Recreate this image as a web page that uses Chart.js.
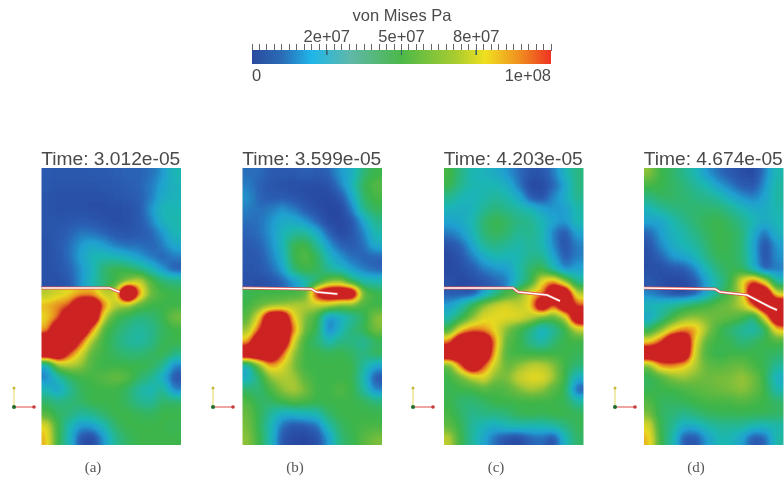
<!DOCTYPE html>
<html><head><meta charset="utf-8">
<style>html,body{margin:0;padding:0;background:#fff;overflow:hidden}canvas{display:block;filter:blur(.45px)}</style>
<script src="https://cdn.jsdelivr.net/npm/chart.js@4/dist/chart.umd.min.js"></script>
</head><body><canvas id="c" width="784" height="480"></canvas>
<script>
// Stress in MPa: 12 columns, upper half above the crack line, lower half below it.
// The colour scale saturates at 100 MPa, so the values above it are estimates from the size of the red areas.
const panelAUpper=[
8,7,7,7,8,8,9,10,10,12,18,30,
7,6,6,6,6,7,8,9,10,14,22,28,
6,5,5,5,5,5,6,7,9,14,25,28,
6,5,5,5,4,4,4,5,8,18,30,30,
6,6,7,8,7,5,4,5,8,15,28,32,
6,7,10,14,13,10,7,6,8,10,18,30,
5,8,12,20,24,20,14,12,12,10,14,24,
5,7,12,22,30,32,30,26,20,14,10,14,
5,6,10,18,28,45,50,48,40,30,18,8,
5,5,8,18,30,44,50,62,75,55,44,40];
const panelALower=[
70,75,80,85,85,70,75,170,90,60,52,50,
85,90,95,130,130,90,70,65,55,50,50,50,
80,92,130,130,130,70,50,45,40,42,48,62,
85,130,130,130,88,52,45,38,34,38,46,50,
130,130,130,95,65,50,42,35,33,38,48,50,
130,130,95,75,55,50,45,42,42,45,50,40,
20,65,70,65,52,50,50,50,50,48,38,15,
15,30,45,50,52,56,60,55,45,38,25,6,
30,20,35,47,50,50,50,45,33,28,38,15,
45,40,42,45,50,50,50,45,38,35,45,45,
55,45,42,35,38,45,50,50,48,46,50,50,
80,50,30,18,20,30,45,50,50,50,50,48,
85,50,28,5,3,20,38,46,50,50,50,50];
const panelBUpper=[
12,12,8,8,8,10,8,10,20,25,42,50,
15,10,7,5,4,4,4,5,15,28,48,55,
18,10,8,8,6,4,3,3,6,22,45,52,
15,12,14,18,14,8,4,2,2,14,38,48,
12,12,18,25,25,18,10,3,2,6,22,38,
10,12,18,28,35,36,25,10,3,6,15,32,
8,10,16,28,50,52,36,20,10,8,12,25,
7,8,14,25,50,55,48,28,18,12,10,10,
6,7,11,20,44,52,48,35,28,20,14,10,
5,4,6,10,18,30,40,60,65,42,32,30];
const panelBLower=[
48,50,50,50,50,55,110,130,130,130,60,50,
50,58,62,65,70,70,72,70,60,60,52,50,
55,80,130,130,80,62,50,15,25,35,45,65,
65,95,130,130,92,58,48,12,28,42,48,62,
85,130,130,130,75,50,42,30,40,40,35,45,
130,130,130,95,65,50,50,48,50,45,40,48,
25,60,88,78,62,50,50,50,50,50,35,22,
25,42,65,70,68,55,50,50,50,50,30,6,
45,42,52,65,70,62,50,50,55,50,35,15,
55,45,45,50,55,52,50,50,50,50,48,42,
60,48,35,25,25,28,30,45,50,50,50,50,
62,48,30,12,6,8,12,32,45,50,52,52,
65,50,30,6,3,2,5,20,42,48,56,62];
const panelCUpper=[
52,40,30,28,25,18,12,6,6,14,28,40,
50,38,30,30,30,26,14,3,3,10,22,40,
38,30,28,32,35,32,25,8,5,16,25,38,
28,26,28,36,42,38,34,30,22,18,20,32,
22,24,30,44,50,46,40,38,30,22,18,32,
14,18,28,42,48,44,36,38,32,14,6,22,
5,10,22,36,40,36,32,36,32,16,5,15,
3,6,14,24,30,28,30,38,38,22,8,15,
3,4,8,14,18,20,32,45,50,32,15,22,
5,3,4,6,10,15,30,45,80,90,65,35];
const panelCLower=[
8,6,5,20,35,50,60,80,88,130,130,70,
20,30,48,65,75,78,72,80,130,92,130,95,
30,45,62,78,80,80,80,72,60,55,70,130,
50,80,92,88,78,62,50,40,24,35,48,72,
90,130,130,130,88,55,50,38,30,42,50,50,
130,130,130,130,82,52,50,50,50,50,50,48,
55,92,130,95,72,58,65,72,72,65,50,42,
50,58,70,78,62,62,74,80,80,68,50,25,
48,50,50,55,52,55,62,68,65,55,48,8,
50,42,42,45,50,50,50,50,50,50,48,35,
52,45,38,40,40,42,48,50,48,50,50,48,
58,48,35,28,25,30,32,30,30,33,40,48,
72,50,35,22,12,5,3,10,12,5,28,45];
const panelDUpper=[
65,50,45,38,30,18,12,8,4,3,15,32,
52,50,45,42,35,30,20,14,8,6,18,34,
40,46,46,44,40,38,34,24,18,15,22,34,
28,35,40,42,44,44,44,38,30,25,25,32,
22,22,30,38,44,48,50,45,38,30,25,30,
10,20,28,32,40,46,50,48,42,25,12,28,
6,16,25,30,34,44,50,48,42,22,4,20,
5,10,18,22,28,40,48,48,42,24,4,18,
4,4,6,8,16,30,42,48,46,26,8,14,
8,5,3,3,8,22,35,48,80,100,75,32];
const panelDLower=[
15,10,5,3,8,22,40,55,72,130,130,72,
30,32,35,42,48,52,58,62,72,95,130,130,
22,35,50,62,65,62,60,58,52,38,78,130,
45,62,80,90,88,66,50,42,35,30,42,85,
80,95,130,130,78,55,50,48,40,45,50,52,
130,130,130,130,72,52,48,50,50,50,48,45,
60,88,90,82,70,58,55,58,60,52,48,35,
46,52,62,66,62,60,62,62,66,62,48,25,
48,50,50,52,56,58,60,62,65,60,50,30,
55,46,46,48,50,52,52,52,55,52,50,45,
62,46,42,38,42,46,48,48,48,48,48,46,
78,48,38,24,25,32,36,36,36,30,28,32,
85,50,34,8,6,20,30,30,22,6,10,34];

const timeLabels=["Time: 3.012e-05","Time: 3.599e-05","Time: 4.203e-05","Time: 4.674e-05"];
const captions=["(a)","(b)","(c)","(d)"];
const colorbarTitle="von Mises Pa";
const colorbarTickLabels={25000000:"2e+07",50000000:"5e+07",75000000:"8e+07"};
const colorbarEndLabels={0:"0",100000000:"1e+08"};
const colorbarMajorValues=[25000000,50000000,75000000];
// Crack path inside each panel: [distance from left edge, distance below top edge]
const crackA=[[0,120],[68,120],[78,124]];
const crackB=[[0,120],[69,121],[74,124],[95,126]];
const crackC=[[0,120],[69,120],[74,124],[103,127],[116,133]];
const crackD=[[0,120],[71,121],[76,124],[103,127],[126,139],[133,142]];

const panels=[
 {left:41.5,upper:panelAUpper,lower:panelALower,crack:crackA,tipCol:6,triad:14,cap:93},
 {left:242.5,upper:panelBUpper,lower:panelBLower,crack:crackB,tipCol:6,triad:213,cap:295},
 {left:444,upper:panelCUpper,lower:panelCLower,crack:crackC,tipCol:6,triad:413,cap:496},
 {left:644,upper:panelDUpper,lower:panelDLower,crack:crackD,tipCol:6,triad:615,cap:696}];
const PW=139.5, TOP=168, SPLIT=288, BOTTOM=445, COLS=12, BLUR=5, ENC=180;
const barLeft=252, barRight=551, BAR_MAX=1e8;
const ramp=[[39,64,154],[42,98,181],[31,159,208],[28,182,180],[42,182,130],[60,181,74],[108,187,62],[180,202,48],[232,216,32],[232,138,32],[204,34,34]];
const lut=[];for(let g=0;g<256;g++){const t=Math.min(100,g/255*ENC)/10,i=Math.min(9,Math.floor(t)),f=t-i,a=ramp[i],b=ramp[i+1];
 lut.push(a.map((c,k)=>Math.round(c+(b[k]-c)*f)));}
function grayOf(v){const g=Math.round(Math.min(ENC,v)/ENC*255);return `rgb(${g},${g},${g})`;}

// Cells past the edge repeat the edge value so the blur does not fade; past the crack line,
// cells right of the kink continue into the other half, where the field is unbroken.
function half(values,other,isUpper,left,top,bottom,tipCol){
 const rows=values.length/COLS,otherRows=other.length/COLS,cw=PW/COLS,rh=(bottom-top)/rows,pts=[];
 for(let r=-3;r<rows+3;r++)for(let i=-3;i<COLS+3;i++){
  const ii=Math.max(0,Math.min(COLS-1,i));let v;
  if(isUpper&&r>=rows&&ii>=tipCol)v=other[(r-rows)*COLS+ii];
  else if(!isUpper&&r<0&&ii>=tipCol)v=other[(otherRows+r)*COLS+ii];
  else v=values[Math.max(0,Math.min(rows-1,r))*COLS+ii];
  pts.push({x:left+(i+.5)*cw,y:top+(r+.5)*rh,v});
 }
 return {type:'scatter',data:pts,order:20,pointStyle:'rect',pointRadius:9.6,pointBorderWidth:0,
  pointBackgroundColor:pts.map(p=>grayOf(p.v)),region:{x:left,y:top,w:PW,h:bottom-top},clip:false};
}
const datasets=[];
panels.forEach(p=>{
 datasets.push(half(p.upper,p.lower,true,p.left,TOP,SPLIT,p.tipCol));
 datasets.push(half(p.lower,p.upper,false,p.left,SPLIT,BOTTOM,p.tipCol));
 const path=p.crack.map(c=>({x:p.left+c[0],y:TOP+c[1]}));
 datasets.push({type:'line',data:path,order:3,borderColor:'#e2504a',borderWidth:3,pointRadius:0,tension:0});
 datasets.push({type:'line',data:path,order:2,borderColor:'#ffffff',borderWidth:1.5,pointRadius:0,tension:0});
 const ox=p.triad,oy=407;
 datasets.push({type:'line',data:[{x:ox,y:oy},{x:ox,y:oy-19}],order:2,borderColor:'#e3d75a',borderWidth:1,pointRadius:[0,1.5],pointBackgroundColor:'#c9b83a',pointBorderWidth:0});
 datasets.push({type:'line',data:[{x:ox,y:oy},{x:ox+20,y:oy}],order:2,borderColor:'#e04a4a',borderWidth:1,pointRadius:[0,1.8],pointBackgroundColor:'#c83a3a',pointBorderWidth:0});
 datasets.push({type:'scatter',data:[{x:ox,y:oy}],order:1,pointRadius:2,pointBackgroundColor:'#1c6b2a',pointBorderWidth:0});
});
const canvasEl=document.getElementById('c');
const barGradient=canvasEl.getContext('2d').createLinearGradient(barLeft,0,barRight,0);
[[0,'#2b4a9f'],[.1,'#2a6cb5'],[.2,'#1fb6ea'],[.33,'#5fb8a8'],[.5,'#4cb848'],[.68,'#a8cc30'],[.78,'#f0e020'],[.9,'#f08a20'],[1,'#ee3322']].forEach(s=>barGradient.addColorStop(s[0],s[1]));
datasets.push({type:'line',xAxisID:'cb',data:[{x:0,y:57},{x:BAR_MAX,y:57}],order:5,borderWidth:14,pointRadius:0,borderCapStyle:'butt',borderColor:barGradient});
colorbarMajorValues.forEach(v=>datasets.push({type:'line',xAxisID:'cb',data:[{x:v,y:50},{x:v,y:55}],order:4,borderColor:'#33606a',borderWidth:1,pointRadius:0}));

function newLayer(){const e=document.createElement('canvas');e.width=784;e.height=480;return e;}
const layer=newLayer(),soft=newLayer(),out=newLayer();
const layerCtx=layer.getContext('2d'),softCtx=soft.getContext('2d',{willReadFrequently:true}),outCtx=out.getContext('2d');
const blurPlugin={id:'blurLayer',
 beforeDatasetDraw(chart,a){const ds=chart.data.datasets[a.index];if(!ds.region)return;
  layerCtx.clearRect(0,0,784,480);a.meta.controller._ctx=layerCtx;},
 afterDatasetDraw(chart,a){const ds=chart.data.datasets[a.index];if(!ds.region)return;
  a.meta.controller._ctx=chart.ctx;const r=ds.region;
  softCtx.clearRect(0,0,784,480);softCtx.filter=`blur(${BLUR}px)`;softCtx.drawImage(layer,0,0);softCtx.filter='none';
  const img=softCtx.getImageData(0,0,784,480),d=img.data;
  for(let i=0;i<d.length;i+=4){if(!d[i+3])continue;const c=lut[d[i]];d[i]=c[0];d[i+1]=c[1];d[i+2]=c[2];d[i+3]=255;}
  outCtx.putImageData(img,0,0);
  const c=chart.ctx;c.save();c.beginPath();c.rect(r.x,r.y,r.w,r.h);c.clip();c.drawImage(out,0,0);c.restore();}};
const textPlugin={id:'texts',afterDraw(chart){const c=chart.ctx;c.save();c.textAlign='center';c.textBaseline='alphabetic';
 c.fillStyle='#4a4a4a';c.font='16.5px "Liberation Sans"';c.fillText(colorbarTitle,402,21);
 c.font='19.2px "Liberation Sans"';
 timeLabels.forEach((t,i)=>c.fillText(t,panels[i].left+PW/2-.5,165));
 c.fillStyle='#555';c.font='15px "Liberation Serif"';
 captions.forEach((t,i)=>c.fillText(t,panels[i].cap,472));
 c.restore();}};

const cbRange={min:-barLeft/(barRight-barLeft)*BAR_MAX,max:(784-barLeft)/(barRight-barLeft)*BAR_MAX};
new Chart(canvasEl,{
 type:'scatter',data:{datasets},plugins:[blurPlugin,textPlugin],
 options:{responsive:false,animation:false,events:[],layout:{padding:0,autoPadding:false},
  plugins:{legend:{display:false},tooltip:{enabled:false},title:{display:false}},
  scales:{
   x:{type:'linear',min:0,max:784,display:false},
   y:{type:'linear',min:0,max:480,reverse:true,display:false},
   cb:{type:'linear',axis:'x',...cbRange,position:{y:43.5},
    border:{display:false},grid:{drawOnChartArea:false,tickLength:7,color:'#666',lineWidth:1},
    afterBuildTicks(s){const t=[];for(let v=0;v<=BAR_MAX;v+=2500000)t.push({value:v});s.ticks=t;},
    ticks:{autoSkip:false,maxRotation:0,padding:-23,color:'#4a4a4a',font:{family:'"Liberation Sans"',size:16.5},callback:v=>colorbarTickLabels[v]||''}},
   cb2:{type:'linear',axis:'x',...cbRange,position:{y:65},
    border:{display:false},grid:{display:false},
    afterBuildTicks(s){s.ticks=Object.keys(colorbarEndLabels).map(v=>({value:+v}));},
    ticks:{autoSkip:false,maxRotation:0,align:'inner',padding:-6,color:'#4a4a4a',font:{family:'"Liberation Sans"',size:16.5},callback:v=>colorbarEndLabels[v]||''}}
  }}});
</script></body></html>
